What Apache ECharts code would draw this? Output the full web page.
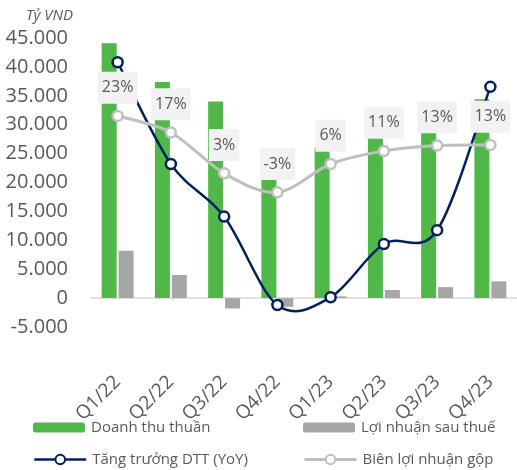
<!DOCTYPE html>
<html>
<head>
<meta charset="utf-8">
<script src="https://cdn.jsdelivr.net/npm/echarts@6/dist/echarts.min.js"></script>
<style>
  html, body { margin: 0; padding: 0; background: #fff; }
  #chart { width: 517px; height: 470px; }
</style>
</head>
<body>
<div id="chart"></div>
<script>
// Quý
var categories = ['Q1/22', 'Q2/22', 'Q3/22', 'Q4/22', 'Q1/23', 'Q2/23', 'Q3/23', 'Q4/23'];
// Tỷ VND
var doanhThu = [44100, 37400, 34000, 25800, 26000, 28300, 29300, 34400];
var loiNhuan = [8200, 4000, -1800, -1500, 300, 1400, 1900, 2900];
// %
var tangTruong = [41.6, 6.4, -11.8, -42.4, -39.7, -21.3, -16.5, 33.1];
var bienLoiNhuan = [23.0, 17.3, 3.2, -3.4, 6.4, 10.9, 12.8, 13.0];

var txt = '#595959';
var font = '"Open Sans", "Noto Sans", sans-serif';
var navy = '#002060';
var lightGray = '#bfbfbf';

function fmt(v) {
    var s = String(Math.abs(v)).replace(/\B(?=(\d{3})+(?!\d))/g, '.');
    return (v < 0 ? '-' : '') + s;
}

function legendAt(item, left, top, h) {
    return {
        data: [item],
        left: left,
        top: top,
        padding: 0,
        itemWidth: 52,
        itemHeight: h,
        itemGap: 0,
        selectedMode: false,
        textStyle: { color: txt, fontSize: 15, fontFamily: font, padding: [0, 0, 0, 1] }
    };
}

// duong cong kieu Excel (Catmull-Rom) ve qua api.coord
function splineSeries(values, color, width, z) {
    return {
        type: 'custom',
        yAxisIndex: 1,
        z: z,
        silent: true,
        data: values.map(function (v, i) { return [i, v]; }),
        renderItem: function (params, api) {
            if (params.dataIndex !== 0) return null;
            var pts = values.map(function (v, i) { return api.coord([i, v]); });
            var d = 'M' + pts[0][0] + ' ' + pts[0][1];
            for (var i = 0; i < pts.length - 1; i++) {
                var p0 = pts[Math.max(i - 1, 0)], p1 = pts[i], p2 = pts[i + 1], p3 = pts[Math.min(i + 2, pts.length - 1)];
                var c1x = p1[0] + (p2[0] - p0[0]) / 6, c1y = p1[1] + (p2[1] - p0[1]) / 6;
                var c2x = p2[0] - (p3[0] - p1[0]) / 6, c2y = p2[1] - (p3[1] - p1[1]) / 6;
                d += ' C' + c1x + ' ' + c1y + ' ' + c2x + ' ' + c2y + ' ' + p2[0] + ' ' + p2[1];
            }
            return {
                type: 'path',
                shape: { pathData: d },
                style: { fill: null, stroke: color, lineWidth: width }
            };
        }
    };
}

var myChart = echarts.init(document.getElementById('chart'));

var option = {
    animation: false,
    textStyle: { fontFamily: font },
    title: {
        text: 'Tỷ VND',
        left: 21,
        top: 3,
        textStyle: { color: txt, fontSize: 15, fontStyle: 'italic', fontWeight: 'normal', fontFamily: font }
    },
    legend: [
        legendAt('Doanh thu thuần', 33, 420, 10),
        legendAt('Lợi nhuận sau thuế', 303, 420, 10),
        legendAt({ name: 'Tăng trưởng DTT (YoY)', lineStyle: { color: navy, width: 2.5, opacity: 1 } }, 33, 452, 12),
        legendAt({ name: 'Biên lợi nhuận gộp', lineStyle: { color: lightGray, width: 3, opacity: 1 } }, 303, 452, 12)
    ],
    grid: { left: 91, right: -4, top: 38, bottom: 143, containLabel: false },
    xAxis: {
        type: 'category',
        data: categories,
        axisLine: { onZero: true, lineStyle: { color: '#d9d9d9', width: 1.5 } },
        axisTick: { show: false },
        axisLabel: { rotate: 45, margin: 52, color: txt, fontSize: 19, fontFamily: font }
    },
    yAxis: [{
        type: 'value',
        min: -5000,
        max: 45000,
        interval: 5000,
        splitLine: { show: false },
        axisLine: { show: false },
        axisTick: { show: false },
        axisLabel: { margin: 23, color: txt, fontSize: 20, fontFamily: font, formatter: fmt }
    }, {
        type: 'value',
        min: -50,
        max: 50,
        show: false,
        splitLine: { show: false }
    }],
    series: [{
        name: 'Doanh thu thuần',
        type: 'bar',
        z: 2,
        barWidth: 15,
        barGap: '13%',
        itemStyle: { color: '#50b848' },
        data: doanhThu
    }, {
        name: 'Lợi nhuận sau thuế',
        type: 'bar',
        z: 2,
        barWidth: 15,
        barGap: '13%',
        itemStyle: { color: '#a6a6a6' },
        data: loiNhuan
    },
    splineSeries(tangTruong, navy, 2.5, 3),
    {
        name: 'Tăng trưởng DTT (YoY)',
        type: 'line',
        yAxisIndex: 1,
        z: 3,
        symbol: 'circle',
        symbolSize: 10,
        lineStyle: { color: navy, width: 2.5, opacity: 0 },
        itemStyle: { color: '#fff', borderColor: navy, borderWidth: 2.5 },
        data: tangTruong
    },
    splineSeries(bienLoiNhuan, lightGray, 3, 4),
    {
        name: 'Biên lợi nhuận gộp',
        type: 'line',
        yAxisIndex: 1,
        z: 4,
        symbol: 'circle',
        symbolSize: 10,
        lineStyle: { color: lightGray, width: 3, opacity: 0 },
        itemStyle: { color: '#fff', borderColor: lightGray, borderWidth: 2.5 },
        label: {
            show: true,
            position: 'top',
            distance: 6,
            color: txt,
            fontSize: 16,
            fontFamily: font,
            lineHeight: 16,
            backgroundColor: '#f2f2f2',
            padding: [8, 4, 8, 4],
            formatter: function (p) { return Math.round(p.value) + '%'; }
        },
        data: bienLoiNhuan
    }]
};

myChart.setOption(option);
</script>
</body>
</html>
